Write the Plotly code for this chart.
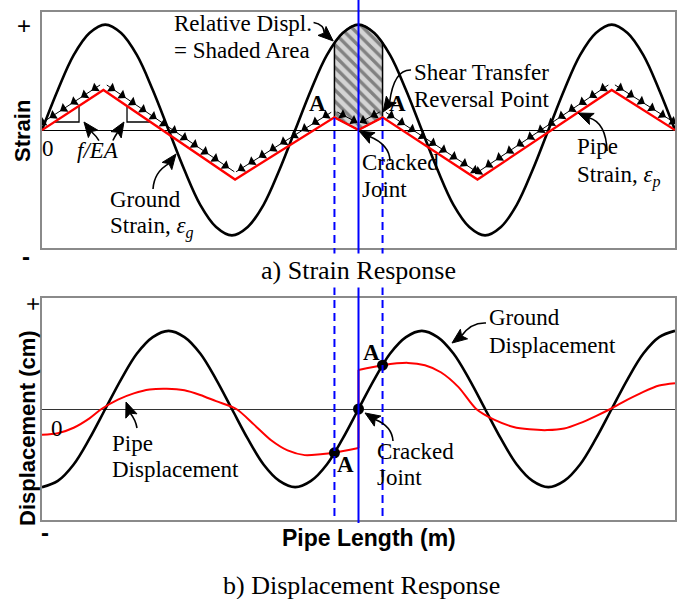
import math
import plotly.graph_objects as go

# ---------------- data ----------------
pipe_length = [0, 2.5, 5, 7.5, 10, 12.5, 15, 17.5, 20, 22.5, 25, 27.5, 30, 32.5, 35, 37.5, 40,
               42.5, 45, 47.5, 50, 52.5, 55, 57.5, 60, 62.5, 65, 67.5, 70, 72.5, 75, 77.5, 80,
               82.5, 85, 87.5, 90, 92.5, 95, 97.5, 100]
ground_strain = [0.00, 0.38, 0.71, 0.92, 1.00, 0.92, 0.71, 0.38, 0.00, -0.38, -0.71, -0.92, -1.00,
                 -0.92, -0.71, -0.38, 0.00, 0.38, 0.71, 0.92, 1.00, 0.92, 0.71, 0.38, 0.00, -0.38,
                 -0.71, -0.92, -1.00, -0.92, -0.71, -0.38, 0.00, 0.38, 0.71, 0.92, 1.00, 0.92,
                 0.71, 0.38, 0.00]
ground_disp = [-1.00, -0.92, -0.71, -0.38, 0.00, 0.38, 0.71, 0.92, 1.00, 0.92, 0.71, 0.38, 0.00,
               -0.38, -0.71, -0.92, -1.00, -0.92, -0.71, -0.38, 0.00, 0.38, 0.71, 0.92, 1.00,
               0.92, 0.71, 0.38, 0.00, -0.38, -0.71, -0.92, -1.00, -0.92, -0.71, -0.38, 0.00,
               0.38, 0.71, 0.92, 1.00]

pipe_strain_x = [0, 9.7, 30.5, 46.2, 50.0, 53.8, 68.8, 90.0, 100]
pipe_strain = [0.0, 0.38, -0.47, 0.12, 0.0, 0.12, -0.47, 0.38, 0.0]

shade_x = [46.2, 47.5, 48.75, 50.0, 51.25, 52.5, 53.8]
shade_top = [0.83, 0.92, 0.98, 1.00, 0.98, 0.92, 0.83]

pipe_disp_left_x = [0, 2.5, 5, 7.5, 9.4, 12, 14.5, 17, 19.7, 22.5, 25, 27.5, 30.7, 33.5, 36.2,
                    38.8, 41.5, 44, 46.2, 50.0]
pipe_disp_left = [-0.33, -0.31, -0.24, -0.12, 0.0, 0.12, 0.20, 0.25, 0.26, 0.24, 0.18, 0.10, 0.0,
                  -0.20, -0.40, -0.53, -0.59, -0.58, -0.56, -0.50]
pipe_disp_right_x = [50.0, 53.8, 57.8, 60.5, 63, 65.8, 68.6, 71.5, 74.5, 77, 79.8, 82.5, 85,
                     87.5, 89.8, 92.5, 95, 97.5, 100]
pipe_disp_right = [0.50, 0.56, 0.59, 0.56, 0.47, 0.28, 0.0, -0.14, -0.23, -0.26, -0.27, -0.25,
                   -0.18, -0.09, 0.0, 0.12, 0.22, 0.30, 0.33]

joint_x = 50.0
reversal_x = [46.2, 53.8]
dot_x = [46.2, 50.0, 53.8]
dot_y = [-0.56, 0.0, 0.56]

slope_left_x = [1.94, 5.85, 5.85]
slope_left_y = [0.076, 0.076, 0.229]
slope_right_x = [13.43, 13.43, 17.13]
slope_right_y = [0.228, 0.076, 0.076]

# ---------------- layout geometry ----------------
W, H = 681, 599
xdom = [42 / W, 675 / W]
ydom_top = [1 - 248 / H, 1 - 12 / H]
ydom_bot = [1 - 520 / H, 1 - 298 / H]
xr = [0, 100]
yr_top = [-1.12, 1.12]
yr_bot = [-1.42, 1.42]
sx = (xdom[1] - xdom[0]) * W / (xr[1] - xr[0])
sy_top = (ydom_top[1] - ydom_top[0]) * H / (yr_top[1] - yr_top[0])
sy_bot = (ydom_bot[1] - ydom_bot[0]) * H / (yr_bot[1] - yr_bot[0])

SERIF = "Liberation Serif, Times New Roman, serif"
SANS = "Liberation Sans, Arial, sans-serif"
RED = "#ff0000"
BLUE = "#0000ff"

fig = go.Figure()

# ---- top panel: strain ----
a_strain = pipe_strain[pipe_strain_x.index(reversal_x[0])]
b_strain = pipe_strain[pipe_strain_x.index(reversal_x[1])]
j_strain = pipe_strain[pipe_strain_x.index(joint_x)]
fig.add_trace(go.Scatter(
    x=shade_x + [reversal_x[1], joint_x, reversal_x[0], shade_x[0]],
    y=shade_top + [b_strain, j_strain, a_strain, shade_top[0]],
    mode="lines", fill="toself", line=dict(color="black", width=1.5),
    fillcolor="#d0d0d0",
    fillpattern=dict(shape="\\", fgcolor="#2e2e2e", bgcolor="#d4d4d4", size=8, solidity=0.42),
    xaxis="x", yaxis="y", hoverinfo="skip"))

fig.add_trace(go.Scatter(x=pipe_length, y=ground_strain, mode="lines",
                         line=dict(color="black", width=2.6, shape="spline"),
                         xaxis="x", yaxis="y"))

for sxs, sys_ in [(slope_left_x, slope_left_y), (slope_right_x, slope_right_y)]:
    fig.add_trace(go.Scatter(x=sxs, y=sys_, mode="lines", line=dict(color="black", width=1.3),
                             xaxis="x", yaxis="y"))

# arrows riding on the pipe strain line (pointing downhill)
ax_x, ax_y, ax_ang = [], [], []
ch_x, ch_y = [], []
OFF = 6.0
for i in range(len(pipe_strain_x) - 1):
    p0 = (pipe_strain_x[i], pipe_strain[i])
    p1 = (pipe_strain_x[i + 1], pipe_strain[i + 1])
    hi, lo = (p0, p1) if p0[1] > p1[1] else (p1, p0)
    dxp = (lo[0] - hi[0]) * sx
    dyp = (lo[1] - hi[1]) * sy_top
    L = math.hypot(dxp, dyp)
    ux, uy = dxp / L, dyp / L
    nx, ny = -uy, ux
    if ny < 0:
        nx, ny = -nx, -ny
    ang = math.degrees(math.atan2(ux, uy))
    s = 6.0
    while s < L - 4:
        ax_x.append(hi[0] + (ux * s + nx * OFF) / sx)
        ax_y.append(hi[1] + (uy * s + ny * OFF) / sy_top)
        ax_ang.append(ang)
        s += 12.5
    for s_ in (0.0, L - 5):
        ch_x.append(hi[0] + (ux * s_ + nx * OFF) / sx)
        ch_y.append(hi[1] + (uy * s_ + ny * OFF) / sy_top)
    ch_x.append(None)
    ch_y.append(None)

fig.add_trace(go.Scatter(x=ch_x, y=ch_y, mode="lines", line=dict(color="black", width=1),
                         xaxis="x", yaxis="y"))
fig.add_trace(go.Scatter(x=ax_x, y=ax_y, mode="markers",
                         marker=dict(symbol="triangle-up", size=9, color="black", angle=ax_ang),
                         xaxis="x", yaxis="y"))

fig.add_trace(go.Scatter(x=pipe_strain_x, y=pipe_strain, mode="lines",
                         line=dict(color=RED, width=2.3), xaxis="x", yaxis="y"))

# ---- bottom panel: displacement ----
fig.add_trace(go.Scatter(x=pipe_length, y=ground_disp, mode="lines",
                         line=dict(color="black", width=2.6, shape="spline"),
                         xaxis="x2", yaxis="y2"))
fig.add_trace(go.Scatter(x=pipe_disp_left_x, y=pipe_disp_left, mode="lines",
                         line=dict(color=RED, width=2, shape="spline", smoothing=0.8),
                         xaxis="x2", yaxis="y2"))
fig.add_trace(go.Scatter(x=pipe_disp_right_x, y=pipe_disp_right, mode="lines",
                         line=dict(color=RED, width=2, shape="spline", smoothing=0.8),
                         xaxis="x2", yaxis="y2"))
fig.add_trace(go.Scatter(x=[pipe_disp_left_x[-1], pipe_disp_right_x[0]],
                         y=[pipe_disp_left[-1], pipe_disp_right[0]], mode="lines",
                         line=dict(color=RED, width=2), xaxis="x2", yaxis="y2"))
fig.add_trace(go.Scatter(x=dot_x, y=dot_y, mode="markers",
                         marker=dict(size=11, color="black"), xaxis="x2", yaxis="y2"))

# ---- blue joint lines ----
def top_paper(v):
    return ydom_top[0] + (v - yr_top[0]) / (yr_top[1] - yr_top[0]) * (ydom_top[1] - ydom_top[0])

fig.add_shape(type="line", xref="x", yref="paper", x0=joint_x, x1=joint_x,
              y0=1 - 523 / H, y1=1.0, line=dict(color=BLUE, width=2))
for xv, sv in zip(reversal_x, [a_strain, b_strain]):
    fig.add_shape(type="line", xref="x", yref="paper", x0=xv, x1=xv,
                  y0=ydom_bot[0] + 4 / H, y1=top_paper(sv),
                  line=dict(color=BLUE, width=2, dash="8px,5px"))

# ---- text & arrows ----
def label(text, x, y, xref="x", yref="y", size=23, family=SERIF, xanchor="left", **kw):
    fig.add_annotation(text=text, x=x, y=y, xref=xref, yref=yref, showarrow=False,
                       xanchor=xanchor, yanchor="middle",
                       font=dict(family=family, size=size, color="black"), **kw)

HEAD_L, HEAD_W, NOTCH = 15.0, 6.0, 3.0

def arrow(tip, off, tail, ctrl=None, xref="x", yref="y", sy=sy_top):
    # off: pixel offset of the head base from the tip (x right, y down)
    ox, oy = off[0], -off[1]
    n = math.hypot(ox, oy)
    ux, uy = -ox / n, -oy / n          # unit vector base -> tip (y up, px)
    px_, py_ = -uy, ux                 # perpendicular
    def d(dx, dy):
        return (tip[0] + dx / sx, tip[1] + dy / sy)
    back = (-ux * HEAD_L, -uy * HEAD_L)
    p_l = d(back[0] + px_ * HEAD_W, back[1] + py_ * HEAD_W)
    p_r = d(back[0] - px_ * HEAD_W, back[1] - py_ * HEAD_W)
    p_n = d(-ux * (HEAD_L - NOTCH), -uy * (HEAD_L - NOTCH))
    fig.add_shape(type="path", xref=xref, yref=yref,
                  path=f"M {tip[0]},{tip[1]} L {p_l[0]},{p_l[1]} L {p_n[0]},{p_n[1]} "
                       f"L {p_r[0]},{p_r[1]} Z",
                  fillcolor="black", line=dict(color="black", width=1))
    if ctrl is None:
        path = f"M {tail[0]},{tail[1]} L {p_n[0]},{p_n[1]}"
    else:
        path = f"M {tail[0]},{tail[1]} Q {ctrl[0]},{ctrl[1]} {p_n[0]},{p_n[1]}"
    fig.add_shape(type="path", xref=xref, yref=yref, path=path,
                  line=dict(color="black", width=1.6))

# top panel labels
label("Relative Displ.", 20.5, 1.015)
label("= Shaded Area", 20.5, 0.759)
arrow((46.0, 0.845), (-20, -18), tail=(42.9, 1.02), ctrl=(44.6, 1.0))
label("Shear Transfer", 58.45, 0.55)
label("Reversal Point", 58.45, 0.285)
arrow((53.87, 0.171), (12, -18), tail=(58.3, 0.569), ctrl=(55.6, 0.575))
label("<b>A</b>", 43.6, 0.247, xanchor="center")
label("<b>A</b>", 56.1, 0.247, xanchor="center")
label("Cracked", 50.2, -0.313)
label("Joint", 50.2, -0.569)
arrow((50.08, -0.009), (17, 9), tail=(54.98, -0.294), ctrl=(54.9, -0.14))
label("Pipe", 84.2, -0.161)
label("Strain, <i>ε<sub>p</sub></i>", 84.2, -0.446)
arrow((84.68, 0.161), (14, 6), tail=(89.26, -0.199), ctrl=(89.1, 0.07))
label("Ground", 10.4, -0.655)
label("Strain, <i>ε<sub>g</sub></i>", 10.4, -0.930)
arrow((21.17, -0.228), (-9, 12), tail=(17.54, -0.560), ctrl=(17.7, -0.40))
label("<i>f/EA</i>", 8.85, -0.19, xanchor="center")
arrow((6.63, 0.076), (10, 13), tail=(9.0, -0.10), ctrl=(8.6, -0.06))
arrow((12.95, 0.076), (-8, 13), tail=(11.2, -0.10), ctrl=(11.5, -0.06))
label("0", 0.95, -0.171, xanchor="center")

# bottom panel labels
label("Ground", 70.3, 1.176, xref="x2", yref="y2")
label("Displacement", 70.3, 0.818, xref="x2", yref="y2")
arrow((64.77, 0.844), (12, -9), xref="x2", yref="y2", sy=sy_bot,
      tail=(70.14, 1.100), ctrl=(67.8, 1.11))
label("<b>A</b>", 52.1, 0.729, xref="x2", yref="y2", xanchor="center")
label("<b>A</b>", 48.0, -0.716, xref="x2", yref="y2", xanchor="center")
label("Cracked", 52.6, -0.55, xref="x2", yref="y2")
label("Joint", 52.6, -0.882, xref="x2", yref="y2")
arrow((51.03, -0.051), (14, 9), xref="x2", yref="y2", sy=sy_bot,
      tail=(55.45, -0.409), ctrl=(55.3, -0.22))
label("Pipe", 10.74, -0.435, xref="x2", yref="y2")
label("Displacement", 10.74, -0.78, xref="x2", yref="y2")
arrow((13.27, 0.0895), (5, 13), xref="x2", yref="y2", sy=sy_bot,
      tail=(15.01, -0.243), ctrl=(14.8, -0.14))
label("0", 2.37, -0.243, xref="x2", yref="y2", xanchor="center")

# axis-like labels in paper coords
label("+", 24 / W, 1 - 25 / H, xref="paper", yref="paper", size=24, family=SANS, xanchor="center")
label("<b>-</b>", 26 / W, 1 - 256 / H, xref="paper", yref="paper", size=24, family=SANS, xanchor="center")
label("<b>Strain</b>", 22 / W, 1 - 131 / H, xref="paper", yref="paper", size=22, family=SANS,
      xanchor="center", textangle=-90)
label("a) Strain Response", 358 / W, 1 - 270 / H, xref="paper", yref="paper", size=26,
      xanchor="center", bgcolor="white", borderpad=2)

label("+", 32 / W, 1 - 304 / H, xref="paper", yref="paper", size=24, family=SANS,
      xanchor="center", textangle=-90)
label("<b>-</b>", 45 / W, 1 - 532 / H, xref="paper", yref="paper", size=24, family=SANS, xanchor="center")
label("<b>Displacement (cm)</b>", 27 / W, 1 - 428 / H, xref="paper", yref="paper", size=22,
      family=SANS, xanchor="center", textangle=-90)
label("<b>Pipe Length (m)</b>", 369 / W, 1 - 538 / H, xref="paper", yref="paper", size=23,
      family=SANS, xanchor="center")
label("b) Displacement Response", 361 / W, 1 - 585 / H, xref="paper", yref="paper", size=26,
      xanchor="center")

axis_common = dict(showticklabels=False, ticks="", showgrid=False, showline=True, mirror=True,
                   linecolor="#8a8a8a", linewidth=1.5, fixedrange=True)
fig.update_layout(
    width=W, height=H, margin=dict(l=0, r=0, t=0, b=0),
    paper_bgcolor="white", plot_bgcolor="white", showlegend=False,
    xaxis=dict(domain=xdom, range=xr, anchor="y", zeroline=False, **axis_common),
    yaxis=dict(domain=ydom_top, range=yr_top, anchor="x", zeroline=True, zerolinecolor="black",
               zerolinewidth=1, **axis_common),
    xaxis2=dict(domain=xdom, range=xr, anchor="y2", zeroline=False, **axis_common),
    yaxis2=dict(domain=ydom_bot, range=yr_bot, anchor="x2", zeroline=True, zerolinecolor="#333333",
                zerolinewidth=1, **axis_common),
)

fig.write_html("out.html")
